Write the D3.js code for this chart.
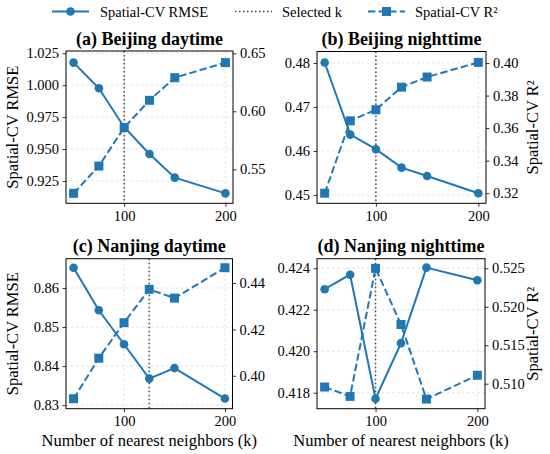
<!DOCTYPE html>
<html>
<head>
<meta charset="utf-8">
<script src="https://cdn.jsdelivr.net/npm/d3@7"></script>
</head>
<body style="margin:0">
<script>
// data
var kValues = [50, 75, 100, 125, 150, 200];
var titles = ["(a) Beijing daytime", "(b) Beijing nighttime", "(c) Nanjing daytime", "(d) Nanjing nighttime"];
var selectedK = [100, 100, 125, 100];

var rmseBeijingDay = [1.0177, 0.9976, 0.9671, 0.9461, 0.9276, 0.9153];
var rmseBeijingNight = [0.4801, 0.4637, 0.4604, 0.4562, 0.4543, 0.4504];
var rmseNanjingDay = [0.8652, 0.8543, 0.8456, 0.8368, 0.8395, 0.8317];
var rmseNanjingNight = [0.42299, 0.42369, 0.41771, 0.42039, 0.42403, 0.42342];

var r2BeijingDay = [0.5293, 0.5528, 0.586, 0.6095, 0.629, 0.642];
var r2BeijingNight = [0.3200, 0.3645, 0.3713, 0.3852, 0.3914, 0.4004];
var r2NanjingDay = [0.3901, 0.4076, 0.4229, 0.4373, 0.4335, 0.4466];
var r2NanjingNight = [0.50957, 0.50835, 0.525, 0.5177, 0.5080, 0.5111];

var xTicks = [100, 200];
var rmseTicks = [
  [0.925, 0.950, 0.975, 1.000, 1.025],
  [0.45, 0.46, 0.47, 0.48],
  [0.83, 0.84, 0.85, 0.86],
  [0.418, 0.420, 0.422, 0.424]
];
var r2Ticks = [
  [0.55, 0.60, 0.65],
  [0.32, 0.34, 0.36, 0.38, 0.40],
  [0.40, 0.42, 0.44],
  [0.510, 0.515, 0.520, 0.525]
];
var rmseFormat = [".3f", ".2f", ".2f", ".3f"];
var r2Format = [".2f", ".2f", ".2f", ".3f"];

var rmseSeries = [rmseBeijingDay, rmseBeijingNight, rmseNanjingDay, rmseNanjingNight];
var r2Series = [r2BeijingDay, r2BeijingNight, r2NanjingDay, r2NanjingNight];

var w = 550;
var h = 454;
var blue = "#1f77b4";
var fontName = "'Times New Roman'";

// panel boxes and axis limits (layout)
var boxes = [
  { x: 66, y: 51, w: 167, h: 152.3, yLim: [0.9075, 1.0268], y2Lim: [0.5207, 0.652] },
  { x: 317, y: 51.5, w: 169, h: 151.8, yLim: [0.4481, 0.4826], y2Lim: [0.3138, 0.4071] },
  { x: 66, y: 258.7, w: 166.5, h: 150, yLim: [0.8291, 0.8675], y2Lim: [0.3858, 0.4505] },
  { x: 317, y: 258.7, w: 168, h: 150, yLim: [0.41723, 0.42446], y2Lim: [0.50675, 0.52625] }
];

var svg = d3.select("body")
  .append("svg")
  .attr("width", w)
  .attr("height", h)
  .style("font-family", fontName);

function label(sel, size) {
  return sel.style("font-family", fontName)
    .style("font-size", size + "px")
    .attr("fill", "#000");
}

boxes.forEach(function(b, i) {
  var g = svg.append("g")
    .attr("transform", "translate(" + b.x + "," + b.y + ")");

  var xScale = d3.scaleLinear().domain([42.5, 207.5]).range([0, b.w]);
  var yScale = d3.scaleLinear().domain(b.yLim).range([b.h, 0]);
  var y2Scale = d3.scaleLinear().domain(b.y2Lim).range([b.h, 0]);

  // grid
  g.selectAll(".hgrid")
    .data(rmseTicks[i])
    .enter().append("line")
    .attr("x1", 0).attr("x2", b.w)
    .attr("y1", function(d) { return yScale(d); })
    .attr("y2", function(d) { return yScale(d); })
    .attr("stroke", "#d9d9d9")
    .attr("stroke-width", 0.8)
    .attr("stroke-dasharray", "2.5,2.5");

  g.selectAll(".vgrid")
    .data(xTicks)
    .enter().append("line")
    .attr("y1", 0).attr("y2", b.h)
    .attr("x1", function(d) { return xScale(d); })
    .attr("x2", function(d) { return xScale(d); })
    .attr("stroke", "#d9d9d9")
    .attr("stroke-width", 0.8)
    .attr("stroke-dasharray", "2.5,2.5");

  // selected k
  g.append("line")
    .attr("x1", xScale(selectedK[i])).attr("x2", xScale(selectedK[i]))
    .attr("y1", 0).attr("y2", b.h)
    .attr("stroke", "#444")
    .attr("stroke-width", 1.5)
    .attr("stroke-dasharray", "1.5,2.5");

  // RMSE line
  var rmsePts = kValues.map(function(k, j) { return [k, rmseSeries[i][j]]; });
  g.append("path")
    .datum(rmsePts)
    .attr("fill", "none")
    .attr("stroke", blue)
    .attr("stroke-width", 2)
    .attr("d", d3.line()
      .x(function(d) { return xScale(d[0]); })
      .y(function(d) { return yScale(d[1]); }));

  g.selectAll(".dot")
    .data(rmsePts)
    .enter().append("circle")
    .attr("cx", function(d) { return xScale(d[0]); })
    .attr("cy", function(d) { return yScale(d[1]); })
    .attr("r", 4.3)
    .attr("fill", blue);

  // R2 line
  var r2Pts = kValues.map(function(k, j) { return [k, r2Series[i][j]]; });
  g.append("path")
    .datum(r2Pts)
    .attr("fill", "none")
    .attr("stroke", blue)
    .attr("stroke-width", 2)
    .attr("stroke-dasharray", "7.4,3.2")
    .attr("d", d3.line()
      .x(function(d) { return xScale(d[0]); })
      .y(function(d) { return y2Scale(d[1]); }));

  g.selectAll(".sq")
    .data(r2Pts)
    .enter().append("rect")
    .attr("x", function(d) { return xScale(d[0]) - 4.5; })
    .attr("y", function(d) { return y2Scale(d[1]) - 4.5; })
    .attr("width", 9)
    .attr("height", 9)
    .attr("fill", blue);

  // axes
  var xAxis = g.append("g")
    .attr("transform", "translate(0," + b.h + ")")
    .call(d3.axisBottom(xScale).tickValues(xTicks).tickSize(3.5).tickPadding(3.5));

  var yAxis = g.append("g")
    .call(d3.axisLeft(yScale).tickValues(rmseTicks[i]).tickFormat(d3.format(rmseFormat[i])).tickSize(3.5).tickPadding(3.5));

  var y2Axis = g.append("g")
    .attr("transform", "translate(" + b.w + ",0)")
    .call(d3.axisRight(y2Scale).tickValues(r2Ticks[i]).tickFormat(d3.format(r2Format[i])).tickSize(3.5).tickPadding(3.5));

  [xAxis, yAxis, y2Axis].forEach(function(a) {
    a.attr("font-family", null).attr("font-size", null);
    a.select(".domain").remove();
    label(a.selectAll("text"), 14.5);
    a.selectAll("line").attr("stroke", "#000").attr("stroke-width", 0.8);
  });

  // frame
  g.append("rect")
    .attr("width", b.w)
    .attr("height", b.h)
    .attr("fill", "none")
    .attr("stroke", "#000")
    .attr("stroke-width", 1);

  // title
  label(g.append("text"), 18)
    .attr("x", b.w / 2)
    .attr("y", -6.5)
    .attr("text-anchor", "middle")
    .style("font-weight", "bold")
    .text(titles[i]);

  if (i % 2 === 0) {
    label(g.append("text"), 16.5)
      .attr("transform", "rotate(-90)")
      .attr("x", -b.h / 2)
      .attr("y", 12 - b.x)
      .attr("dy", "0.35em")
      .attr("text-anchor", "middle")
      .text("Spatial-CV RMSE");
  } else {
    label(g.append("text"), 16.5)
      .attr("transform", "rotate(-90)")
      .attr("x", -b.h / 2)
      .attr("y", 532 - b.x)
      .attr("dy", "0.35em")
      .attr("text-anchor", "middle")
      .text("Spatial-CV R²");
  }

  if (i >= 2) {
    label(g.append("text"), 16.5)
      .attr("x", b.w / 2)
      .attr("y", b.h + 37)
      .attr("text-anchor", "middle")
      .text("Number of nearest neighbors (k)");
  }
});

// legend
var legend = svg.append("g").attr("transform", "translate(0,11.5)");

legend.append("line")
  .attr("x1", 52).attr("x2", 89).attr("y1", 0).attr("y2", 0)
  .attr("stroke", blue).attr("stroke-width", 2);
legend.append("circle")
  .attr("cx", 70.5).attr("cy", 0).attr("r", 4.3).attr("fill", blue);
label(legend.append("text"), 14.5)
  .attr("x", 100).attr("y", 0).attr("dy", "0.35em")
  .text("Spatial-CV RMSE");

legend.append("line")
  .attr("x1", 235).attr("x2", 272).attr("y1", 0).attr("y2", 0)
  .attr("stroke", "#444").attr("stroke-width", 1.5)
  .attr("stroke-dasharray", "1.5,2.5");
label(legend.append("text"), 14.5)
  .attr("x", 282).attr("y", 0).attr("dy", "0.35em")
  .text("Selected k");

legend.append("line")
  .attr("x1", 368).attr("x2", 405).attr("y1", 0).attr("y2", 0)
  .attr("stroke", blue).attr("stroke-width", 2)
  .attr("stroke-dasharray", "7.4,3.2");
legend.append("rect")
  .attr("x", 382).attr("y", -4.5).attr("width", 9).attr("height", 9)
  .attr("fill", blue);
label(legend.append("text"), 14.5)
  .attr("x", 415).attr("y", 0).attr("dy", "0.35em")
  .text("Spatial-CV R²");
</script>
</body>
</html>
